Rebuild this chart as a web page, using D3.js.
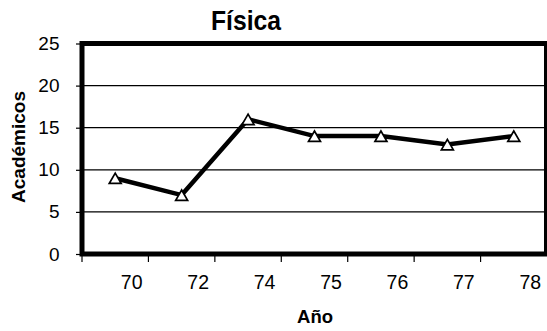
<!DOCTYPE html>
<html><head><meta charset="utf-8">
<script src="https://cdn.jsdelivr.net/npm/d3@7"></script>
<style>
html,body{margin:0;padding:0;background:#fff;}
svg{display:block;font-family:"Liberation Sans",Arial,sans-serif;}
</style></head>
<body>
<script>
// Académicos de Física por año
const years = ["70", "72", "74", "75", "76", "77", "78"];
const academicos = [9, 7, 16, 14, 14, 13, 14];
const yTicks = [0, 5, 10, 15, 20, 25];

const W = 547, H = 331;
const plot = {left: 82, right: 547, top: 43.5, bottom: 254};

const svg = d3.select("body").append("svg").attr("width", W).attr("height", H);

const x = d3.scaleBand().domain(years).range([plot.left, plot.right]);
const y = d3.scaleLinear().domain([0, 25]).range([plot.bottom, plot.top]);
const cx = d => x(d) + x.bandwidth() / 2;

// horizontal gridlines
svg.append("g").selectAll("line").data(yTicks.filter(d => d > 0 && d < 25)).join("line")
  .attr("x1", plot.left).attr("x2", plot.right)
  .attr("y1", d => y(d)).attr("y2", d => y(d))
  .attr("stroke", "#000").attr("stroke-width", 1.2);

// y axis ticks and labels
const yAxis = svg.append("g").attr("transform", `translate(${plot.left},0)`)
  .call(d3.axisLeft(y).tickValues(yTicks).tickSize(6).tickPadding(16.5));
yAxis.select(".domain").remove();
yAxis.selectAll("line").attr("stroke", "#000").attr("stroke-width", 1.2);
yAxis.selectAll("text").attr("font-size", 19).attr("fill", "#000")
  .attr("font-family", "Liberation Sans, Arial, sans-serif");

// x axis: tick marks at category boundaries, labels set right of centre
const xb = svg.append("g");
const bounds = years.map(d => x(d));
xb.selectAll("line").data(bounds).join("line")
  .attr("x1", d => d).attr("x2", d => d)
  .attr("y1", y(0)).attr("y2", y(0) + 8)
  .attr("stroke", "#000").attr("stroke-width", 1.2);
xb.selectAll("text").data(years).join("text")
  .attr("x", d => cx(d) + 16.5)
  .attr("y", 289)
  .attr("text-anchor", "middle").attr("font-size", 19.5).attr("fill", "#000")
  .text(d => d);

// plot frame
svg.append("rect")
  .attr("x", plot.left).attr("y", plot.top)
  .attr("width", plot.right - 0.5 - plot.left).attr("height", y(0) - plot.top)
  .attr("fill", "none").attr("stroke", "#000").attr("stroke-width", 5);

// series line
const line = d3.line().x((d, i) => cx(years[i])).y(d => y(d));
svg.append("path").datum(academicos).attr("d", line)
  .attr("fill", "none").attr("stroke", "#000").attr("stroke-width", 4.5)
  .attr("stroke-linejoin", "miter");

// triangle markers
const tri = d3.symbol().type(d3.symbolTriangle).size(62);
svg.append("g").selectAll("path").data(academicos).join("path")
  .attr("d", tri)
  .attr("transform", (d, i) => `translate(${cx(years[i])},${y(d) + 1.8})`)
  .attr("fill", "#fff").attr("stroke", "#000").attr("stroke-width", 1.7);

// titles
svg.append("text").attr("x", 246).attr("y", 30).attr("text-anchor", "middle")
  .attr("font-size", 27).attr("font-weight", "bold")
  .attr("textLength", 70).attr("lengthAdjust", "spacingAndGlyphs")
  .text("Física");
svg.append("text").attr("transform", `translate(25,147) rotate(-90)`)
  .attr("text-anchor", "middle").attr("font-size", 19).attr("font-weight", "bold")
  .text("Académicos");
svg.append("text").attr("x", 315).attr("y", 323).attr("text-anchor", "middle")
  .attr("font-size", 18.5).attr("font-weight", "bold").text("Año");
</script>
</body></html>
